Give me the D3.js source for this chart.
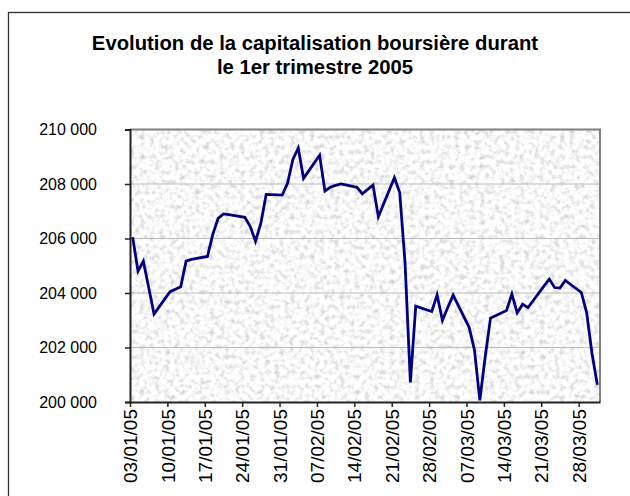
<!DOCTYPE html>
<html><head><meta charset="utf-8">
<script src="https://cdn.jsdelivr.net/npm/d3@7"></script>
<style>body{margin:0;background:#fff}svg{display:block}</style>
</head><body>
<svg id="c" width="630" height="496"></svg>
<script>
const titleLines = ["Evolution de la capitalisation boursière durant", "le 1er trimestre 2005"];
const dates = ["2005-01-03","2005-01-04","2005-01-05","2005-01-06","2005-01-07",
"2005-01-10","2005-01-11","2005-01-12","2005-01-13","2005-01-14",
"2005-01-17","2005-01-18","2005-01-19","2005-01-20","2005-01-21",
"2005-01-24","2005-01-25","2005-01-26","2005-01-27","2005-01-28",
"2005-01-31","2005-02-01","2005-02-02","2005-02-03","2005-02-04",
"2005-02-07","2005-02-08","2005-02-09","2005-02-10","2005-02-11",
"2005-02-14","2005-02-15","2005-02-16","2005-02-17","2005-02-18",
"2005-02-21","2005-02-22","2005-02-23","2005-02-24","2005-02-25",
"2005-02-28","2005-03-01","2005-03-02","2005-03-03","2005-03-04",
"2005-03-07","2005-03-08","2005-03-09","2005-03-10","2005-03-11",
"2005-03-14","2005-03-15","2005-03-16","2005-03-17","2005-03-18",
"2005-03-21","2005-03-22","2005-03-23","2005-03-24","2005-03-25",
"2005-03-28","2005-03-29","2005-03-30","2005-03-31"];
const values = [206050,204800,205170,204200,203230,
204050,204140,204230,205170,205230,
205340,206150,206740,206900,206880,
206780,206450,205900,206560,207620,
207590,208030,208900,209320,208210,
209060,207740,207880,207950,208000,
207880,207640,207800,207960,206800,
208230,207690,205100,200720,203520,
203320,203930,203000,203470,203920,
202740,201900,200060,201650,203080,
203360,203960,203270,203590,203460,
204250,204510,204200,204180,204460,
204020,203280,201780,200630];
const yTicks = [200000,202000,204000,206000,208000,210000];
const xTickLabels = ["03/01/05","10/01/05","17/01/05","24/01/05","31/01/05","07/02/05","14/02/05","21/02/05","28/02/05","07/03/05","14/03/05","21/03/05","28/03/05"];

const parseD = d3.timeParse("%Y-%m-%d");
const parseL = d3.timeParse("%d/%m/%y");
const fmtL = d3.timeFormat("%d/%m/%y");
const loc = d3.formatLocale({decimal:",", thousands:"\u00a0", grouping:[3], currency:["","€"]});
const fmtY = loc.format(",");

const L = 130, R = 600, T = 129.5, B = 402;
const svg = d3.select("#c");

const x = d3.scaleTime().domain([parseD("2005-01-03"), parseD("2005-04-01")]).range([L, R]);
const y = d3.scaleLinear().domain([200000, 210000]).range([B, T]);

// defs: granite texture
const defs = svg.append("defs");
const f = defs.append("filter").attr("id","granite").attr("x",0).attr("y",0).attr("width",1).attr("height",1);
f.append("feTurbulence").attr("type","fractalNoise").attr("baseFrequency","0.2").attr("numOctaves",3).attr("seed",5).attr("result","n");
f.append("feColorMatrix").attr("in","n").attr("type","matrix")
 .attr("values","0.85 0 0 0 0.52  0.85 0 0 0 0.52  0.85 0 0 0 0.52  0 0 0 0 1");
defs.append("clipPath").attr("id","pc").append("rect").attr("x",L).attr("y",T).attr("width",R-L).attr("height",B-T);

// outer frame
svg.append("rect").attr("x",8.5).attr("y",12.5).attr("width",640).attr("height",520)
  .attr("fill","#fff").attr("stroke","#333").attr("stroke-width",1.3);

// title
svg.append("g").selectAll("text").data(titleLines).join("text")
  .attr("x",315).attr("y",(d,i)=>50+i*24).attr("text-anchor","middle")
  .attr("font-family","Liberation Sans, Arial, sans-serif").attr("font-weight","bold").attr("font-size",20.3)
  .attr("fill","#000").text(d=>d);

// plot background
svg.append("rect").attr("x",L).attr("y",T).attr("width",R-L).attr("height",B-T).attr("filter","url(#granite)");

// gridlines
svg.append("g").selectAll("line").data(yTicks.slice(1,-1)).join("line")
  .attr("x1",L).attr("x2",R).attr("y1",d=>y(d)).attr("y2",d=>y(d))
  .attr("stroke","#bdbdbd").attr("stroke-width",1);

// plot border top/right
svg.append("path").attr("d",`M${L},${T}H${R}V${B}`).attr("fill","none").attr("stroke","#808080").attr("stroke-width",2);

// y axis
const yAxis = d3.axisLeft(y).tickValues(yTicks).tickFormat(fmtY).tickSize(5).tickPadding(28);
const gy = svg.append("g").attr("transform",`translate(${L},0)`).call(yAxis);
gy.select(".domain").attr("stroke","#222").attr("stroke-width",2);
gy.selectAll(".tick line").attr("stroke","#222").attr("stroke-width",1.5);
gy.selectAll("text").attr("font-family","Liberation Sans, Arial, sans-serif").attr("font-size",16).attr("fill","#000");

// x axis
const xTicks = xTickLabels.map(s=>parseL(s));
const xAxis = d3.axisBottom(x).tickValues(xTicks).tickFormat(fmtL).tickSize(5).tickSizeOuter(0);
const gx = svg.append("g").attr("transform",`translate(0,${B})`).call(xAxis);
gx.select(".domain").attr("stroke","#222").attr("stroke-width",2);
gx.selectAll(".tick line").attr("stroke","#222").attr("stroke-width",1.5);
gx.selectAll("text").attr("font-family","Liberation Sans, Arial, sans-serif").attr("font-size",19).attr("fill","#000")
  .attr("transform","rotate(-90)").attr("text-anchor","end").attr("dy","0.35em").attr("x",-7).attr("y",0);

// line
const pts = dates.map((d,i)=>({d:d3.timeHour.offset(parseD(d),12), v:values[i]}));
svg.append("path").datum(pts).attr("clip-path","url(#pc)")
  .attr("d", d3.line().x(p=>x(p.d)).y(p=>y(p.v)))
  .attr("fill","none").attr("stroke","#000080").attr("stroke-width",2.8).attr("stroke-linejoin","miter");
</script>
</body></html>
